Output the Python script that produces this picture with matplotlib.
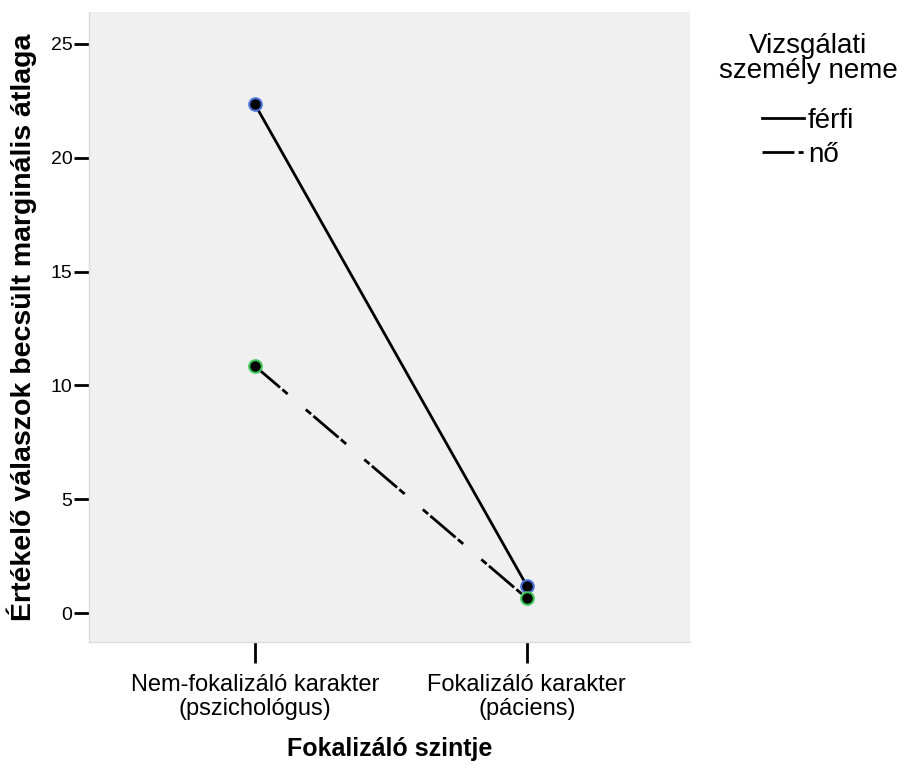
import matplotlib.pyplot as plt

plt.rcParams["font.family"] = ["Liberation Sans", "DejaVu Sans"]

categories = ["Nem-fokalizáló karakter\n(pszichológus)", "Fokalizáló karakter\n(páciens)"]
ferfi = [22.35, 1.2]
no = [10.85, 0.65]
series_names = ["férfi", "nő"]
yticks = [0, 5, 10, 15, 20, 25]

fig = plt.figure(figsize=(9.03, 7.66), dpi=100)
ax = fig.add_axes([89 / 903, 1 - 642 / 766, 601 / 903, 630 / 766])
ax.set_facecolor("#f0f0f0")

x = range(len(categories))
# dash-dot-ish pattern: long dash with a short dash on each side
dash = (0, (11.9, 1.1, 2.5, 8.6, 2.5, 1.1))
ax.plot(x, ferfi, color="black", lw=2, zorder=2)
ax.plot(x, no, color="black", lw=2, linestyle=dash, zorder=2)
ax.plot(x, ferfi, "o", ms=9, mfc="black", mec="#4a72d8", mew=1.5, zorder=3)
ax.plot(x, no, "o", ms=9, mfc="black", mec="#3cc454", mew=1.5, zorder=3)

ax.set_xlim(-0.61, 1.60)
ax.set_ylim(-1.27, 26.4)
ax.set_yticks(yticks)
ax.set_xticks(list(x))
ax.set_xticklabels(categories, fontsize=17, linespacing=1.15)
ax.tick_params(axis="y", labelsize=14, length=11, width=2, direction="out", pad=1)
ax.tick_params(axis="x", length=15, width=2, direction="out", pad=8)

for s in ["top", "right"]:
    ax.spines[s].set_visible(False)
for s in ["left", "bottom"]:
    ax.spines[s].set_color("#dcdcdc")
    ax.spines[s].set_linewidth(1)

ax.set_xlabel("Fokalizáló szintje", fontsize=18, fontweight="bold", labelpad=12)
ax.set_ylabel("Értékelő válaszok becsült marginális átlaga", fontsize=20.5,
              fontweight="bold", labelpad=10)

h1, = ax.plot([], [], color="black", lw=2)
h2, = ax.plot([], [], color="black", lw=2, linestyle=(0, (11.5, 1.5, 1.8, 7)))
leg = fig.legend([h1, h2], series_names, title="Vizsgálati\nszemély neme",
                 loc="upper center", bbox_to_anchor=(808 / 903, 1 - 8 / 766),
                 frameon=False, fontsize=20, title_fontsize=20,
                 handlelength=1.5, handletextpad=0.15, labelspacing=0.3)
leg.get_title().set_multialignment("center")
leg.get_title().set_linespacing(0.95)
leg._legend_box.sep = 17

fig.savefig("out.png", dpi=100)
